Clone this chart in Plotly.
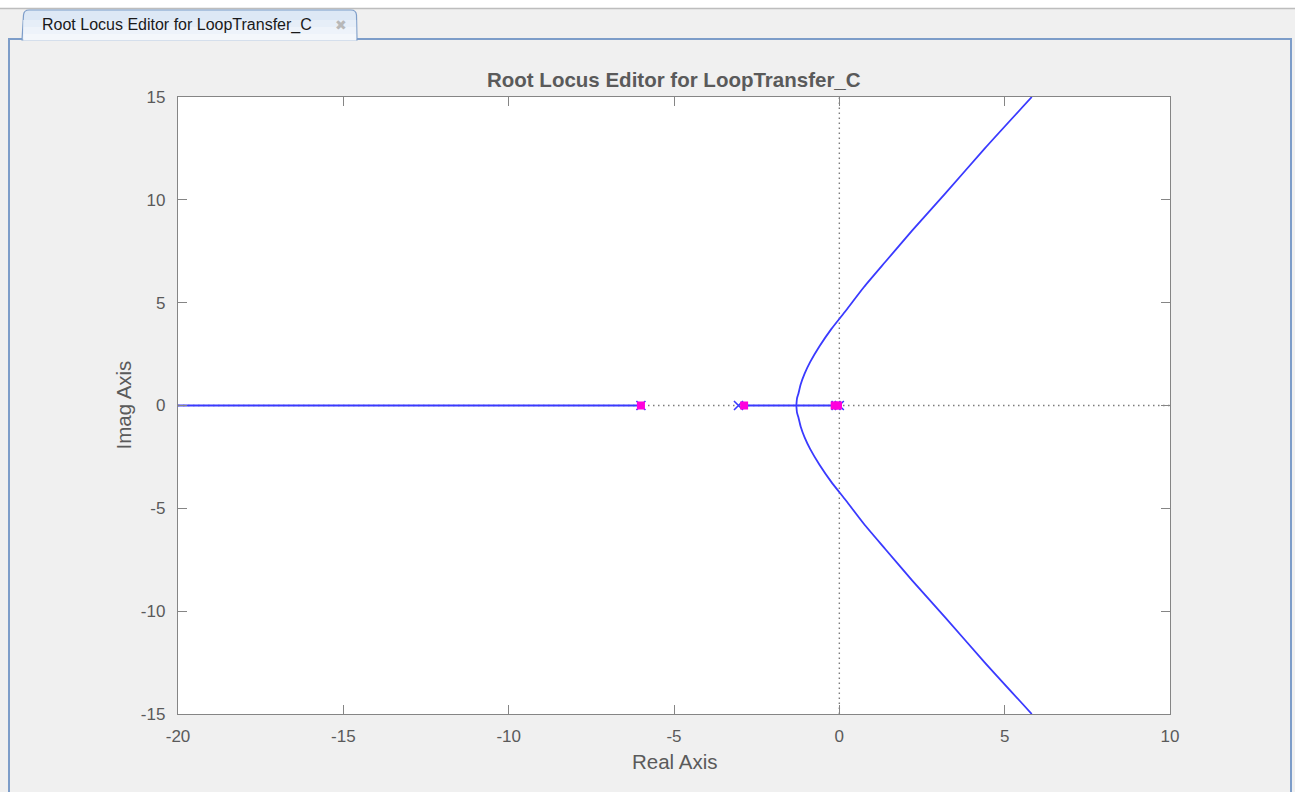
import plotly.graph_objects as go

# ---- data -------------------------------------------------------------
# upper complex branch of the locus (real, imag); lower branch is its mirror
branch_re = [-1.30, -1.28, -1.24, -1.17, -1.05, -0.88, -0.60, -0.25, 0.20, 0.74, 1.40, 2.20, 3.20, 4.40, 5.82]
branch_im = [0.0, 0.35, 0.56, 1.02, 1.55, 2.12, 2.88, 3.70, 4.62, 5.75, 7.0, 8.5, 10.3, 12.5, 15.0]

# real-axis segments of the locus
real_seg_left = [-20.0, -6.0]
real_seg_mid = [-2.9, -0.12]

# open-loop poles (x) and closed-loop poles at the current gain (squares)
ol_poles_re = [-6.0, -3.05, -0.1, 0.0]
cl_poles_re = [-6.0, -2.88, -0.14, -0.04]

x_ticks = [-20, -15, -10, -5, 0, 5, 10]
x_tick_labels = ["-20", "-15", "-10", "-5", "0", "5", "10"]
y_ticks = [-15, -10, -5, 0, 5, 10, 15]
y_tick_labels = ["-15", "-10", "-5", "0", "5", "10", "15"]

TITLE = "Root Locus Editor for LoopTransfer_C"

# ---- page geometry (pixels) ------------------------------------------
W, H = 1295, 792
L, R, T, B = 178, 1170, 97, 714
PW, PH = R - L, B - T


def px(x):
    return (x - L) / PW


def py(y):
    return (B - y) / PH


BLUE = "#3a3aff"
PINK = "#ff00dd"
GREY_TXT = "#5a5a5a"
FONT = "Liberation Sans, Arial, sans-serif"
DOT = dict(color="#7c7c7c", width=1.4, dash="1.5px,3.5px")
LW = 1.8

fig = go.Figure()

# dotted reference axes through the origin
fig.add_trace(go.Scatter(x=[-20, 10], y=[0, 0], mode="lines", line=DOT,
                         hoverinfo="skip", showlegend=False))
fig.add_trace(go.Scatter(x=[0, 0], y=[-15, 15], mode="lines", line=DOT,
                         hoverinfo="skip", showlegend=False))

# real-axis branches
for seg in (real_seg_left, real_seg_mid):
    fig.add_trace(go.Scatter(x=seg, y=[0, 0], mode="lines",
                             line=dict(color=BLUE, width=LW),
                             showlegend=False))

# complex branches
fig.add_trace(go.Scatter(x=branch_re, y=branch_im, mode="lines",
                         line=dict(color=BLUE, width=LW, shape="spline", smoothing=0.6),
                         showlegend=False))
fig.add_trace(go.Scatter(x=branch_re, y=[-v for v in branch_im], mode="lines",
                         line=dict(color=BLUE, width=LW, shape="spline", smoothing=0.6),
                         showlegend=False))

# open-loop poles
fig.add_trace(go.Scatter(x=ol_poles_re, y=[0] * len(ol_poles_re), mode="markers",
                         marker=dict(symbol="x-thin-open", size=9, color=BLUE,
                                     line=dict(color=BLUE, width=1.6)),
                         showlegend=False))
# closed-loop poles
fig.add_trace(go.Scatter(x=cl_poles_re, y=[0] * len(cl_poles_re), mode="markers",
                         marker=dict(symbol="square", size=8, color=PINK,
                                     line=dict(width=0)),
                         showlegend=False))

axis_common = dict(
    showgrid=False, zeroline=False, showline=True, mirror="allticks",
    linecolor="#858585", linewidth=1.3, ticks="inside", ticklen=9,
    tickcolor="#858585", tickwidth=1,
    tickfont=dict(family=FONT, size=17, color=GREY_TXT),
)
fig.update_xaxes(range=[-20, 10], tickvals=x_ticks, ticktext=x_tick_labels,
                 ticklabelstandoff=6, **axis_common)
fig.update_yaxes(range=[-15, 15], tickvals=y_ticks, ticktext=y_tick_labels,
                 ticklabelstandoff=8, **axis_common)

# ---- window chrome: top strip, tab, panel border -------------------
BORDER = "#7d9dc9"
shapes = [
    # white strip above the tab row
    dict(type="rect", xref="paper", yref="paper", x0=px(0), x1=px(W), y0=py(0), y1=py(8),
         fillcolor="white", line=dict(width=0), layer="below"),
    dict(type="line", xref="paper", yref="paper", x0=px(0), x1=px(W), y0=py(8.5), y1=py(8.5),
         line=dict(color="#bdbdbd", width=1.5)),
    # panel border
    dict(type="line", xref="paper", yref="paper", x0=px(9), x1=px(9), y0=py(39), y1=py(H),
         line=dict(color=BORDER, width=2)),
    dict(type="line", xref="paper", yref="paper", x0=px(1291), x1=px(1291), y0=py(39), y1=py(H),
         line=dict(color=BORDER, width=2)),
    dict(type="line", xref="paper", yref="paper", x0=px(356), x1=px(1292), y0=py(39), y1=py(39),
         line=dict(color=BORDER, width=2)),
    dict(type="line", xref="paper", yref="paper", x0=px(8), x1=px(23), y0=py(39), y1=py(39),
         line=dict(color=BORDER, width=2)),
    # plot area background
    dict(type="rect", xref="paper", yref="paper", x0=0, x1=1, y0=0, y1=1,
         fillcolor="white", line=dict(width=0), layer="below"),
]

# tab with rounded top corners
tx0, tx1, ty0, ty1 = 22, 357, 10, 40
tab_path = (
    f"M {px(tx0)} {py(ty1)} L {px(tx0 + 1.5)} {py(ty0 + 5)} "
    f"Q {px(tx0 + 2)} {py(ty0)} {px(tx0 + 7)} {py(ty0)} "
    f"L {px(tx1 - 6)} {py(ty0)} Q {px(tx1 - 1)} {py(ty0)} {px(tx1 - 0.5)} {py(ty0 + 5)} "
    f"L {px(tx1)} {py(ty1)}"
)
shapes.append(dict(type="path", xref="paper", yref="paper", path=tab_path + " Z",
                   fillcolor="#dde8f5", line=dict(color=BORDER, width=1.2)))
# lighter lower band of the tab
for y_top, y_bot, col in ((20, 27, "#e6eef8"), (27, 34, "#eef3fa"), (34, 40.5, "#f4f7fb")):
    shapes.append(dict(type="rect", xref="paper", yref="paper",
                       x0=px(tx0 + 1.3), x1=px(tx1 - 0.8), y0=py(y_bot), y1=py(y_top),
                       fillcolor=col, line=dict(width=0)))

annotations = [
    dict(text=TITLE, xref="paper", yref="paper", x=px(40), y=py(25),
         xanchor="left", yanchor="middle", showarrow=False,
         font=dict(family=FONT, size=16, color="#1a1a1a")),
    dict(text="✖", xref="paper", yref="paper", x=px(341), y=py(25),
         xanchor="center", yanchor="middle", showarrow=False,
         font=dict(family="DejaVu Sans", size=14, color="#b8b8b8")),
    # plot title
    dict(text=f"<b>{TITLE}</b>", xref="paper", yref="paper", x=0.5, y=py(80),
         xanchor="center", yanchor="middle", showarrow=False,
         font=dict(family=FONT, size=20.5, color=GREY_TXT)),
    # axis titles
    dict(text="Real Axis", xref="paper", yref="paper", x=0.5, y=py(761),
         xanchor="center", yanchor="middle", showarrow=False,
         font=dict(family=FONT, size=20.5, color=GREY_TXT)),
    dict(text="Imag Axis", xref="paper", yref="paper", x=px(123), y=0.5,
         xanchor="center", yanchor="middle", showarrow=False, textangle=-90,
         font=dict(family=FONT, size=20.5, color=GREY_TXT)),
]

fig.update_layout(
    width=W, height=H,
    margin=dict(l=L, r=W - R, t=T, b=H - B, pad=0),
    paper_bgcolor="#f0f0f0", plot_bgcolor="white",
    shapes=shapes, annotations=annotations,
    showlegend=False,
)

fig.write_html("out.html")
